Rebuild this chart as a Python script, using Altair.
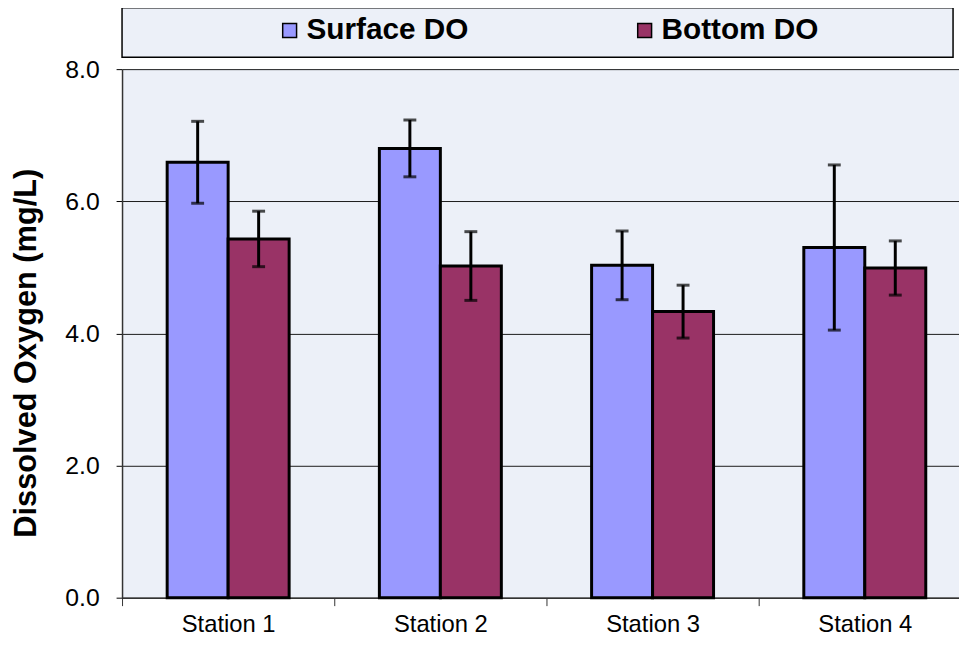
import altair as alt
import pandas as pd

stations = ["Station 1", "Station 2", "Station 3", "Station 4"]
series = ["Surface DO", "Bottom DO"]
surface_do = [6.59, 6.80, 5.03, 5.30]
surface_err = [0.62, 0.43, 0.52, 1.25]
bottom_do = [5.43, 5.02, 4.33, 4.99]
bottom_err = [0.42, 0.52, 0.40, 0.41]
y_ticks = [0, 2, 4, 6, 8]
colors = ["#9999FF", "#993366"]

rows = []
for i, st in enumerate(stations):
    rows.append({"station": st, "series": series[0], "do": surface_do[i], "err": surface_err[i]})
    rows.append({"station": st, "series": series[1], "do": bottom_do[i], "err": bottom_err[i]})
df = pd.DataFrame(rows)
df["lo"] = df["do"] - df["err"]
df["hi"] = df["do"] + df["err"]

FONT = "Liberation Sans"
BG = "#ECF0F8"

x_enc = alt.X(
    "station:N",
    sort=stations,
    scale=alt.Scale(range=[0, 856], paddingInner=0, paddingOuter=0),
    axis=alt.Axis(
        title=None, labelAngle=0, labelFontSize=24, labelFont=FONT, labelColor="black",
        tickBand="extent", tickSize=8, tickColor="#333333", tickWidth=1,
        labelPadding=7, domainColor="#333333", domainWidth=1.5,
    ),
)
xo_enc = alt.XOffset("series:N", sort=series, scale=alt.Scale(paddingInner=0, paddingOuter=0.74))
y_scale = alt.Scale(domain=[0, 8], nice=False)

base = alt.Chart(df)

bars = base.mark_bar(stroke="black", strokeWidth=3).encode(
    x=x_enc,
    xOffset=xo_enc,
    y=alt.Y(
        "do:Q",
        scale=y_scale,
        axis=alt.Axis(
            title="Dissolved Oxygen (mg/L)", titleFont=FONT, titleFontSize=31, titleFontWeight="bold",
            titleColor="black", titlePadding=23, titleY=286,
            values=y_ticks, format=".1f", labelFontSize=25, labelFont=FONT, labelColor="black",
            labelPadding=17, tickSize=6, tickColor="black", domainColor="#333333", domainWidth=1.5,
            grid=True, gridColor="#1a1a1a", gridWidth=1,
        ),
    ),
    color=alt.Color(
        "series:N",
        sort=series,
        scale=alt.Scale(domain=series, range=colors),
        legend=alt.Legend(
            title=None, orient="none", legendX=154, legendY=-54, direction="horizontal",
            symbolType="square", symbolSize=196, symbolStrokeColor="black", symbolStrokeWidth=1.5,
            labelFont=FONT, labelFontSize=30, labelFontWeight="bold", labelColor="black",
            labelOffset=2, labelLimit=400, columnPadding=162, padding=0,
        ),
    ),
)

rules = base.mark_rule(color="black", strokeWidth=3).encode(
    x=alt.X("station:N", sort=stations),
    xOffset=xo_enc,
    y=alt.Y("lo:Q", scale=y_scale),
    y2="hi:Q",
)
caps_hi = base.mark_tick(color="black", size=13, thickness=3).encode(
    x=alt.X("station:N", sort=stations),
    xOffset=xo_enc,
    y=alt.Y("hi:Q", scale=y_scale),
)
caps_lo = base.mark_tick(color="black", size=13, thickness=3).encode(
    x=alt.X("station:N", sort=stations),
    xOffset=xo_enc,
    y=alt.Y("lo:Q", scale=y_scale),
)

legend_box = alt.Chart(pd.DataFrame({"k": [0]})).mark_rect(
    fill=BG, stroke="black", strokeWidth=1.5
).encode(
    x=alt.value(0), x2=alt.value(838), y=alt.value(-62), y2=alt.value(-12)
)

chart = alt.layer(legend_box, bars, rules, caps_hi, caps_lo).properties(
    width=844, height=533,
    autosize=alt.AutoSizeParams(type="none"),
    padding={"left": 115, "top": 59, "right": 0, "bottom": 38},
    background="white",
).configure_view(fill=BG, stroke=None)

chart.save("out.html", embed_options={"renderer": "svg", "actions": False})
